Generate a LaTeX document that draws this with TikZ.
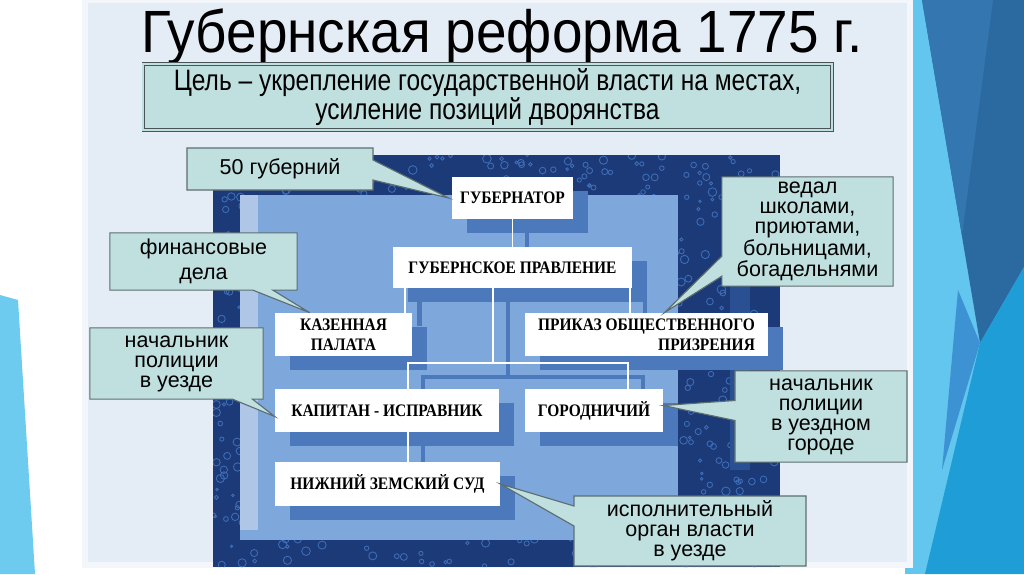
\documentclass[tikz,border=0pt]{standalone}
\usepackage{fontspec}
\setmainfont{Liberation Sans}
\newfontfamily\titlefont[FakeStretch=0.92]{Liberation Sans}
\newfontfamily\narrowfont[FakeStretch=0.83]{Liberation Sans}
\newfontfamily\boxfont[FakeStretch=0.88]{Liberation Serif}
\usetikzlibrary{shapes.callouts,shadows,calc}

\definecolor{panelpaper}{HTML}{E4ECF5}
\definecolor{wedgeblue}{HTML}{6DCBEF}
\definecolor{skyblue}{HTML}{62C6EE}
\definecolor{facetdark}{HTML}{2B6AA1}
\definecolor{facetlight}{HTML}{3477B0}
\definecolor{facetmid}{HTML}{3C92D2}
\definecolor{facetsea}{HTML}{1E9DD6}
\definecolor{framedark}{HTML}{1C3A78}
\definecolor{framevein}{HTML}{3F6EB8}
\definecolor{innerblue}{HTML}{7EA7DC}
\definecolor{scrolllight}{HTML}{AFC6E7}
\definecolor{boxshade}{HTML}{4C79BB}
\definecolor{notefill}{HTML}{C0E0E0}
\definecolor{noteline}{HTML}{5E6E70}
\definecolor{goalline}{HTML}{4A5456}

\pgfdeclarelayer{decor}
\pgfdeclarelayer{shade}
\pgfsetlayers{decor,shade,main}

\tikzset{
	orgbox/.style={rectangle, fill=white, align=center, inner sep=2pt,
		font=\boxfont\bfseries\fontsize{12.5}{14}\selectfont,
		drop shadow={shadow xshift=0.38cm, shadow yshift=-0.35cm, fill=boxshade, opacity=1}},
	note/.style={rectangle callout, fill=notefill, draw=noteline, line width=0.8pt,
		align=center, inner sep=2pt, callout pointer width=0.5cm,
		font=\fontsize{15.3}{14.2}\selectfont},
	link/.style={draw=white, line width=1.4pt},
	linkshade/.style={draw=boxshade, line width=3pt}
}

\begin{document}
\begin{tikzpicture}[x=0.025cm, y=-0.025cm]
	\useasboundingbox (0,0) rectangle (1024,574);

	\begin{pgfonlayer}{decor}
		% slide background
		\fill[white] (0,0) rectangle (1024,574);
		\fill[wedgeblue] (0,295) -- (18,300) -- (35,574) -- (0,574) -- cycle;
		\fill[skyblue] (905,0) rectangle (1024,574);
		\fill[facetdark] (922,0) -- (1024,0) -- (1024,267) -- (980,343) -- cycle;
		\fill[facetlight] (922,0) -- (993,0) -- (962,235) -- cycle;
		\fill[facetsea] (1024,267) -- (1024,574) -- (925,574) -- (980,343) -- cycle;
		\fill[facetmid] (958,290) -- (980,343) -- (942,470) -- cycle;
		\fill[panelpaper, draw=white!55!panelpaper, line width=4pt] (85,0) rectangle (910,565);

		% marbled frame
		\fill[framedark] (213,155) rectangle (780,567);
		\begin{scope}[even odd rule]
			\clip (213,155) rectangle (780,567) (240,195) rectangle (678,540);
			\pgfmathsetseed{11}
			\foreach \i in {1,...,900}{
				\pgfmathsetmacro\rx{213+rnd*567}
				\pgfmathsetmacro\ry{155+rnd*412}
				\pgfmathsetmacro\rr{0.03+rnd*0.08}
				\draw[framevein, line width=0.6pt] (\rx,\ry) circle[radius=\rr cm];
			}
		\end{scope}
		\fill[framedark!60!framevein] (730,195) rectangle (750,470);
		\fill[innerblue] (240,195) rectangle (678,540);
		\fill[scrolllight] (240,195) rectangle (258,530);
	\end{pgfonlayer}

	% title and aim
	\node[font=\titlefont\fontsize{42.4}{42.4}\selectfont, anchor=base] (title) at (502,52) {Губернская реформа 1775 г.};
	\node[draw=goalline, line width=0.7pt, double=notefill, double distance=1.3pt, fill=notefill,
		minimum width=17.2cm, minimum height=1.5cm, align=center,
		font=\narrowfont\fontsize{21}{20.5}\selectfont] (goal) at (487.5,97)
		{Цель – укрепление государственной власти на местах,\\усиление позиций дворянства};

	% institutions
	\node[orgbox, minimum width=3.03cm, minimum height=1.05cm] (gub) at (512.5,198) {ГУБЕРНАТОР};
	\node[orgbox, minimum width=5.98cm, minimum height=1.03cm] (prav) at (512.5,267.5) {ГУБЕРНСКОЕ ПРАВЛЕНИЕ};
	\node[orgbox, minimum width=3.43cm, minimum height=1.08cm] (kaz) at (343.5,334.5) {КАЗЕННАЯ\\ПАЛАТА};
	\node[orgbox, minimum width=6.08cm, minimum height=1.08cm, align=right] (prikaz) at (646.5,334.5) {ПРИКАЗ ОБЩЕСТВЕННОГО\\ПРИЗРЕНИЯ};
	\node[orgbox, minimum width=5.6cm, minimum height=1.08cm] (kap) at (387,410.5) {КАПИТАН - ИСПРАВНИК};
	\node[orgbox, minimum width=3.45cm, minimum height=1.08cm] (gorod) at (594,410.5) {ГОРОДНИЧИЙ};
	\node[orgbox, minimum width=5.63cm, minimum height=1.1cm] (sud) at (387.5,484) {НИЖНИЙ ЗЕМСКИЙ СУД};

	\coordinate (fork) at (493,363);

	% shadows of the links
	\begin{pgfonlayer}{shade}
		\begin{scope}[transform canvas={shift={(0.37cm,-0.34cm)}}]
			\draw[linkshade] (gub) -- (prav);
			\draw[linkshade] ($(prav.south west)+(12,0)$) coordinate (pl) -- (pl |- kaz.north);
			\draw[linkshade] ($(prav.south east)+(-2,0)$) coordinate (pr) -- (pr |- prikaz.north);
			\draw[linkshade] (fork |- prav.south) -- (fork);
			\draw[linkshade] ($(kap.north east)+(-91,0)$) |- (fork) -| ($(gorod.north)+(34,0)$);
			\draw[linkshade] ($(kap.south)+(21,0)$) coordinate (kd) -- (kd |- sud.north);
		\end{scope}
	\end{pgfonlayer}

	% links
	\draw[link] (gub) -- (prav);
	\draw[link] ($(prav.south west)+(12,0)$) coordinate (pl) -- (pl |- kaz.north);
	\draw[link] ($(prav.south east)+(-2,0)$) coordinate (pr) -- (pr |- prikaz.north);
	\draw[link] (fork |- prav.south) -- (fork);
	\draw[link] ($(kap.north east)+(-91,0)$) |- (fork) -| ($(gorod.north)+(34,0)$);
	\draw[link] ($(kap.south)+(21,0)$) coordinate (kd) -- (kd |- sud.north);

	% remarks
	\node[note, minimum width=4.65cm, minimum height=1.05cm,
		callout absolute pointer={($(gub.west)+(-3,0)$)}] (n50) at (280,169) {50 губерний};
	\node[note, minimum width=4.68cm, minimum height=1.43cm, font=\fontsize{15.3}{17.8}\selectfont,
		callout absolute pointer={($(kaz.north west)+(35,0)$)}] (nfin) at (203.5,261.5) {финансовые\\дела};
	\node[note, minimum width=4.33cm, minimum height=1.78cm,
		callout absolute pointer={($(kap.west)+(0,6)$)}] (npol) at (176.5,363.5) {начальник\\полиции\\в уезде};
	\node[note, minimum width=4.28cm, minimum height=2.73cm,
		callout absolute pointer={($(prikaz.north)+(18,0)$)}] (nved) at (807.5,231.5) {ведал\\школами,\\приютами,\\больницами,\\богадельнями};
	\node[note, minimum width=4.3cm, minimum height=2.28cm,
		callout absolute pointer={($(gorod.east)+(0,-5)$)}] (ngor) at (821,416.5) {начальник\\полиции\\в уездном\\городе};
	\node[note, minimum width=5.8cm, minimum height=1.75cm,
		callout absolute pointer={(sud.east)}] (nisp) at (690,531) {исполнительный\\орган власти\\в уезде};
\end{tikzpicture}
\end{document}
